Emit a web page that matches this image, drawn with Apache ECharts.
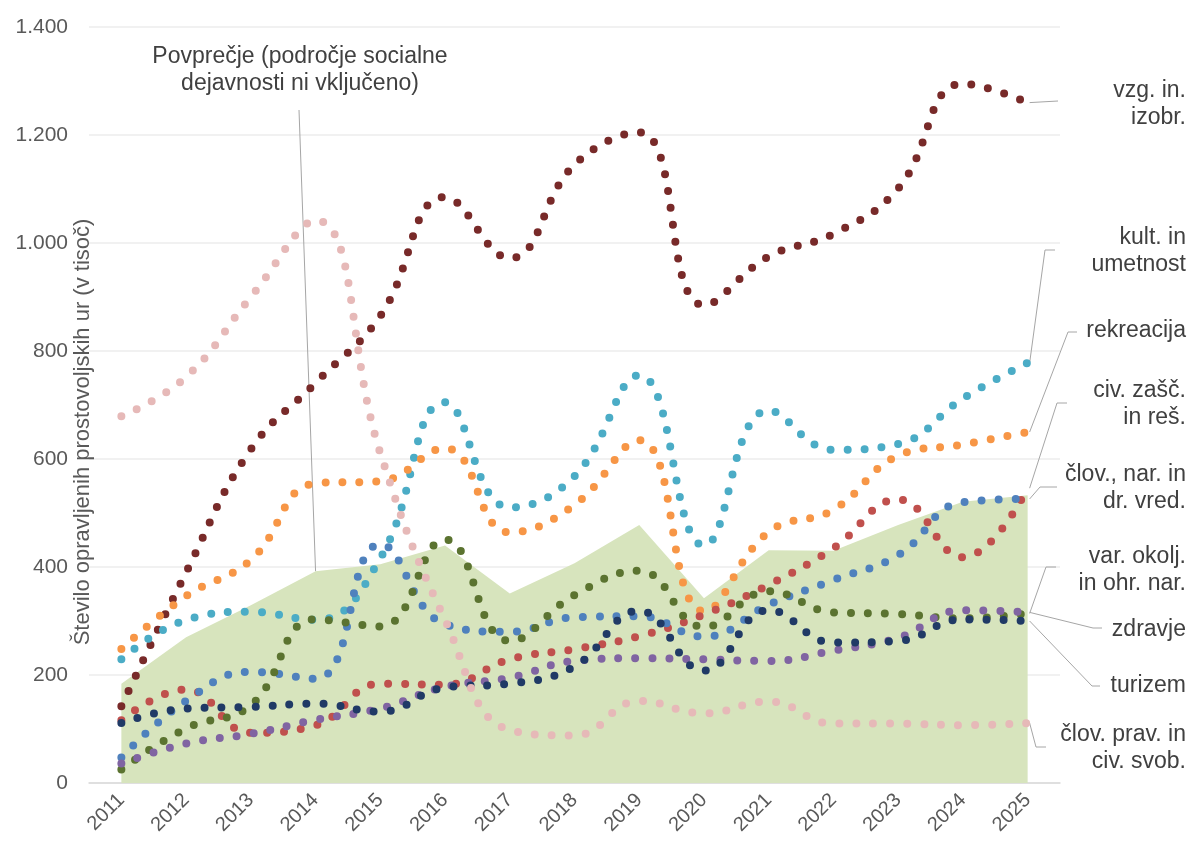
<!DOCTYPE html>
<html>
<head>
<meta charset="utf-8">
<title>Opravljene prostovoljske ure po področjih</title>
<script src="https://cdn.jsdelivr.net/npm/echarts@6/dist/echarts.min.js"></script>
<style>
  html, body { margin: 0; padding: 0; background: #fff; }
  #chart { width: 1193px; height: 849px; }
</style>
</head>
<body>
<div id="chart"></div>
<script>
// leta
var years = ['2011', '2012', '2013', '2014', '2015', '2016', '2017', '2018',
  '2019', '2020', '2021', '2022', '2023', '2024', '2025'];

// število ur (v tisoč) po področjih
var vzgoja = [142, 390, 618, 741, 865, 1085, 972, 1145, 1205, 885, 975, 1017, 1101, 1295, 1260];
var kultura = [229, 302, 317, 302, 416, 705, 510, 568, 755, 440, 690, 617, 628, 712, 778];
var rekreacija = [248, 346, 413, 555, 559, 620, 464, 515, 635, 318, 465, 506, 606, 627, 650];
var civilnaZascita = [116, 173, 93, 107, 184, 182, 229, 248, 272, 312, 367, 435, 525, 418, 546];
var vrednote = [47, 152, 206, 193, 442, 294, 280, 307, 309, 271, 330, 376, 422, 520, 526];
var okolje = [25, 101, 144, 303, 290, 451, 263, 348, 393, 289, 355, 316, 313, 305, 314];
var zdravje = [36, 73, 91, 117, 138, 178, 195, 226, 231, 229, 226, 245, 269, 320, 316];
var turizem = [111, 138, 141, 147, 132, 177, 184, 216, 319, 208, 320, 260, 263, 303, 300];
var pravice = [679, 752, 900, 1042, 611, 302, 98, 88, 152, 129, 151, 110, 110, 107, 111];
// povprečje (področje socialne dejavnosti ni vključeno)
var povprecje = [184, 270, 329, 392, 405, 440, 351, 407, 478, 342, 431, 430, 478, 521, 533];

var lineNames = ['vzg. in.\nizobr.', 'kult. in\numetnost', 'rekreacija', 'civ. zašč.\nin reš.',
  'člov., nar. in\ndr. vred.', 'var. okolj.\nin ohr. nar.', 'zdravje', 'turizem', 'člov. prav. in\nciv. svob.'];
var lineData = [vzgoja, kultura, rekreacija, civilnaZascita, vrednote, okolje, zdravje, turizem, pravice];
var lineColors = ['#782a29', '#4bacc6', '#f79646', '#c0504d', '#4f81bd', '#5b7330', '#8064a2', '#203a66', '#e6b9b8'];

var FONT = '"Liberation Sans", Arial, sans-serif';

var chart = echarts.init(document.getElementById('chart'));

var series = [{
  name: 'Povprečje',
  type: 'line',
  data: povprecje,
  symbol: 'none',
  lineStyle: { width: 0 },
  areaStyle: { color: '#d7e4bd', opacity: 1 },
  z: 1
}];
lineData.forEach(function (d, i) {
  series.push({
    name: lineNames[i],
    type: 'line',
    data: d,
    smooth: 0.45,
    symbol: 'none',
    lineStyle: {
      color: lineColors[i],
      width: 8,
      type: [0, 17],
      cap: 'round'
    },
    z: 2
  });
});

chart.setOption({
  animation: false,
  backgroundColor: '#fff',
  textStyle: { fontFamily: FONT },
  grid: { left: 89, right: 133, top: 27, bottom: 66, containLabel: false, outerBoundsMode: 'none' },
  xAxis: {
    type: 'category',
    data: years,
    boundaryGap: true,
    axisTick: { show: false },
    axisLine: { lineStyle: { color: '#d9d9d9', width: 1.5 } },
    axisLabel: { rotate: 45, fontSize: 20, color: '#595959', margin: 14, interval: 0 }
  },
  yAxis: {
    type: 'value',
    min: 0,
    max: 1400,
    interval: 200,
    name: 'Število opravljenih prostovoljskih ur (v tisoč)',
    nameLocation: 'middle',
    nameGap: -5,
    nameMoveOverlap: false,
    nameTextStyle: { fontSize: 22, color: '#595959', padding: [0, 54, 0, 0] },
    axisLine: { show: false },
    axisTick: { show: false },
    splitLine: { lineStyle: { color: '#ececec', width: 1.5 } },
    axisLabel: {
      fontSize: 21,
      color: '#595959',
      margin: 21,
      formatter: function (v) {
        return v >= 1000 ? Math.floor(v / 1000) + '.' + String(v % 1000).padStart(3, '0') : String(v);
      }
    }
  },
  series: series
});

// napisi na desni in povezovalne črte
var labelY = [104, 251, 331, 404, 488, 570, 630, 686, 748];
var leaderCorner = [null, [1045, 250], [1068, 332], [1057, 403], [1040, 487], [1046, 567], [1093, 628], [1092, 686], [1036, 747]];
var leaderEnd = [[1058, 101], [1055, 250], [1077, 332], [1067, 403], [1057, 487], [1056, 567], [1102, 628], [1100, 686], [1046, 747]];

var graphics = [];
lineData.forEach(function (d, i) {
  var last = d.length - 1;
  var p = chart.convertToPixel({ seriesIndex: i + 1 }, [last, d[last]]);
  var pts = [[p[0] + 2, p[1]]];
  if (leaderCorner[i]) pts.push(leaderCorner[i]);
  pts.push(leaderEnd[i]);
  graphics.push({
    type: 'polyline',
    shape: { points: pts },
    style: { stroke: '#a6a6a6', lineWidth: 1, fill: null },
    silent: true
  });
  graphics.push({
    type: 'text',
    style: {
      text: lineNames[i],
      x: 1186,
      y: labelY[i],
      fill: '#404040',
      fontSize: 23,
      fontFamily: FONT,
      align: 'right',
      verticalAlign: 'middle',
      lineHeight: 27
    },
    silent: true
  });
});

// oznaka povprečja
var pAvg = chart.convertToPixel({ seriesIndex: 0 }, [3, povprecje[3]]);
graphics.push({
  type: 'line',
  shape: { x1: 299, y1: 110, x2: pAvg[0], y2: pAvg[1] },
  style: { stroke: '#a6a6a6', lineWidth: 1 },
  silent: true
});
graphics.push({
  type: 'text',
  style: {
    text: 'Povprečje (področje socialne\ndejavnosti ni vključeno)',
    x: 300,
    y: 70,
    fill: '#404040',
    fontSize: 23,
    fontFamily: FONT,
    align: 'center',
    verticalAlign: 'middle',
    lineHeight: 27
  },
  silent: true
});

chart.setOption({ graphic: graphics });
</script>
</body>
</html>
